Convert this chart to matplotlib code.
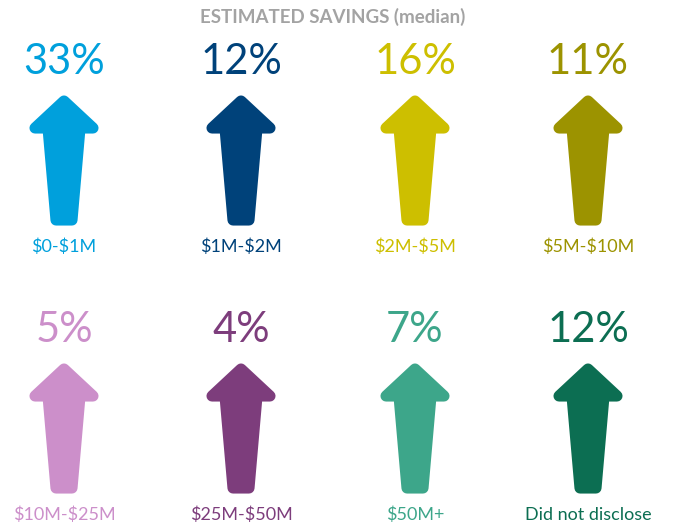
import matplotlib.pyplot as plt
from matplotlib.patches import Polygon

# data
categories = ["$0-$1M", "$1M-$2M", "$2M-$5M", "$5M-$10M",
              "$10M-$25M", "$25M-$50M", "$50M+", "Did not disclose"]
savings_pct = [33, 12, 16, 11, 5, 4, 7, 12]
colors = ["#00a0dc", "#00427a", "#cdbf00", "#9c9300",
          "#cc8fca", "#7d3d7c", "#3da68a", "#0c6e52"]

plt.rcParams['font.family'] = ['Lato', 'DejaVu Sans']

fig = plt.figure(figsize=(6.81, 5.27), dpi=100)
ax = fig.add_axes([0, 0, 1, 1])
ax.set_xlim(0, 681)
ax.set_ylim(527, 0)
ax.axis('off')

col_x = [64, 241, 415, 588]
row_tip = [95, 363]

# arrow outline (inset, rounded by thick edge line)
arrow_shape = [(0, 6), (29, 33), (16, 33), (8, 125), (-8, 125),
               (-16, 33), (-29, 33)]

for i, (cat, pct, c) in enumerate(zip(categories, savings_pct, colors)):
    cx = col_x[i % 4]
    ty = row_tip[i // 4]
    pts = [(cx + dx, ty + dy) for dx, dy in arrow_shape]
    ax.add_patch(Polygon(pts, closed=True, facecolor=c, edgecolor=c,
                         linewidth=8, joinstyle='round'))
    ax.text(cx, ty - 33, f"{pct}%", color=c, fontsize=30,
            ha='center', va='center', parse_math=False)
    ax.text(cx, ty + 152, cat, color=c, fontsize=13,
            ha='center', va='center', parse_math=False)

ax.text(333, 17, "ESTIMATED SAVINGS (median)", color="#a3a3a3",
        fontsize=13.5, fontweight='bold', ha='center', va='center')

fig.savefig("out.png", dpi=100)
